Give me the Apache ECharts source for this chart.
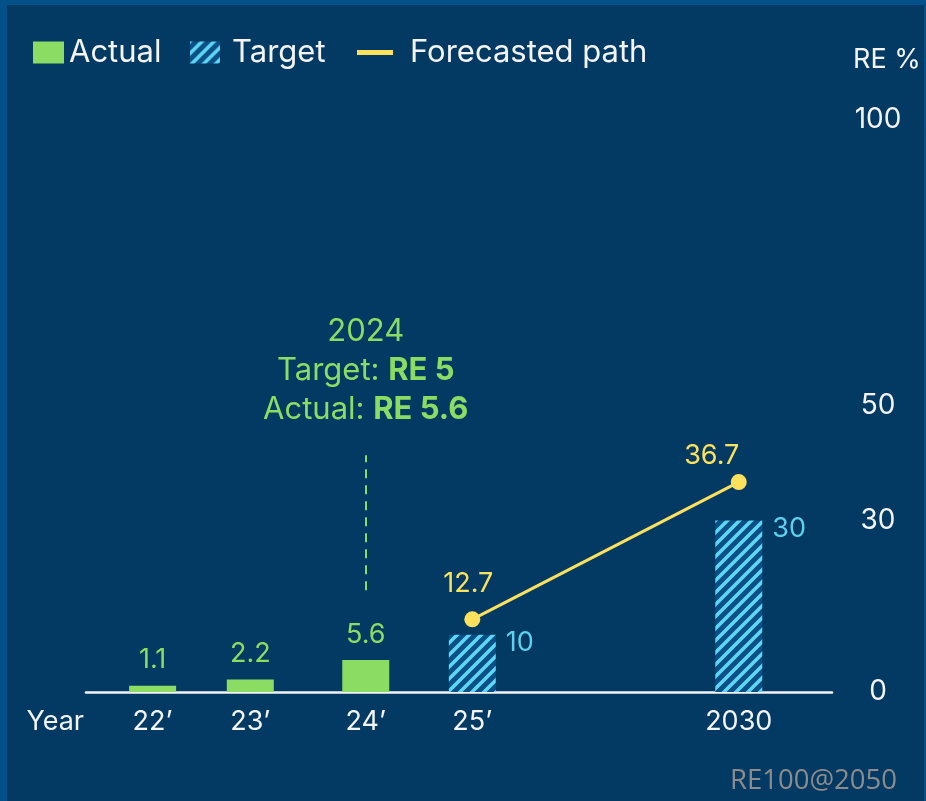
<!DOCTYPE html>
<html>
<head>
<meta charset="utf-8">
<script src="https://cdn.jsdelivr.net/npm/echarts@6/dist/echarts.min.js"></script>
<style>
  html, body { margin: 0; padding: 0; background: #023a64; }
  #chart {
    width: 926px; height: 801px;
    background: #023a64;
    box-shadow: inset 7px 5px 0 0 #045189, inset -2px 0 0 0 #045189;
  }
</style>
</head>
<body>
<div id="chart"></div>
<script>
// ---- data ----
const categories = ['22’', '23’', '24’', '25’', '2030'];
const actualValues = [1.1, 2.2, 5.6, null, null];
const targetValues = [null, null, null, 10, 30];
const forecastValues = [null, null, null, 12.7, 36.7];
const yTickValues = [0, 30, 50, 100];
const noteYear = '2024';
const noteTarget = 5;
const noteActual = 5.6;
const noteCategory = '24’';
const noteRange = [17.8, 41.4];
const watermark = 'RE100@2050';

// ---- layout (axis slots so the uneven year spacing is kept) ----
const SLOT_COUNT = 84;
const slotOf = [7, 18, 31, 43, 73];
const axisCats = new Array(SLOT_COUNT).fill('');
categories.forEach((c, i) => { axisCats[slotOf[i]] = c; });
function toSlots(arr) {
  const out = new Array(SLOT_COUNT).fill(null);
  arr.forEach((v, i) => { out[slotOf[i]] = v; });
  return out;
}

// ---- colours ----
const GREEN = '#8add62';
const CYAN = '#5fd0ec';
const YELLOW = '#fde15c';
const WHITE = '#f4f4f4';
const FONT = 'Inter';

// hatch pattern
const tile = document.createElement('canvas');
tile.width = 12; tile.height = 12;
(function () {
  const c = tile.getContext('2d');
  c.fillStyle = '#0a4f86';
  c.fillRect(0, 0, 12, 12);
  c.strokeStyle = '#5fd6f2';
  c.lineWidth = 3.6;
  c.beginPath();
  c.moveTo(-6, 6); c.lineTo(6, -6);
  c.moveTo(0, 12); c.lineTo(12, 0);
  c.moveTo(6, 18); c.lineTo(18, 6);
  c.stroke();
})();
const hatch = { image: tile, repeat: 'repeat' };

const chart = echarts.init(document.getElementById('chart'), null, { renderer: 'canvas' });

const option = {
  backgroundColor: 'transparent',
  textStyle: { fontFamily: FONT },
  animation: false,
  legend: [
    {
      left: 28, top: 32, itemWidth: 31, itemHeight: 22, icon: 'rect',
      data: ['Actual'],
      textStyle: { color: WHITE, fontSize: 31, fontFamily: FONT, padding: [0, 0, 0, 0] }
    },
    {
      left: 185, top: 32, itemWidth: 30, itemHeight: 22, icon: 'rect',
      data: ['Target'],
      textStyle: { color: WHITE, fontSize: 31, fontFamily: FONT, padding: [0, 0, 0, 7] }
    },
    {
      left: 352, top: 32, itemWidth: 36, itemHeight: 5, icon: 'rect',
      data: ['Forecasted path'],
      textStyle: { color: WHITE, fontSize: 31, fontFamily: FONT, padding: [0, 0, 0, 12] }
    }
  ],
  grid: { left: 86, right: 94, top: 120, bottom: 109, outerBoundsMode: 'none', containLabel: false },
  xAxis: {
    type: 'category',
    data: axisCats,
    boundaryGap: true,
    axisLine: { lineStyle: { color: WHITE, width: 2.5 } },
    axisTick: { show: false },
    axisLabel: { color: WHITE, fontSize: 27, margin: 16, interval: 0, fontFamily: FONT },
    name: 'Year',
    nameLocation: 'start',
    nameGap: 2,
    nameTextStyle: { color: WHITE, fontSize: 27, fontFamily: FONT, verticalAlign: 'top', padding: [16, 0, 0, 0] }
  },
  yAxis: {
    type: 'value',
    position: 'right',
    min: 0, max: 100,
    splitLine: { show: false },
    axisLine: { show: false },
    axisTick: { show: false },
    axisLabel: {
      color: WHITE, fontSize: 28, fontFamily: FONT, align: 'center', margin: 46,
      customValues: yTickValues
    },
    name: 'RE %',
    nameLocation: 'end',
    nameGap: 47,
    nameTextStyle: { color: WHITE, fontSize: 27, fontFamily: FONT, align: 'left', padding: [0, 0, 0, 21] }
  },
  series: [
    {
      name: 'Actual',
      type: 'bar',
      data: toSlots(actualValues),
      barWidth: 47,
      barGap: '-100%',
      itemStyle: { color: GREEN },
      label: {
        show: true, position: 'top', distance: 12,
        color: GREEN, fontSize: 27, fontFamily: FONT
      },
      markLine: {
        symbol: 'none',
        silent: true,
        lineStyle: { color: GREEN, type: [9, 7], width: 2 },
        label: {
          show: true, position: 'end', distance: 26,
          formatter: '{n|' + noteYear + '}\n{n|Target: }{b|RE ' + noteTarget + '}\n{n|Actual: }{b|RE ' + noteActual + '}',
          rich: {
            n: { color: GREEN, fontSize: 31, fontFamily: FONT, lineHeight: 39 },
            b: { color: GREEN, fontSize: 31, fontFamily: FONT, fontWeight: 'bold', lineHeight: 39 }
          }
        },
        data: [[
          { coord: [noteCategory, noteRange[0]] },
          { coord: [noteCategory, noteRange[1]] }
        ]]
      }
    },
    {
      name: 'Target',
      type: 'bar',
      data: toSlots(targetValues),
      barWidth: 47,
      barGap: '-100%',
      itemStyle: { color: hatch },
      label: {
        show: true, position: ['100%', 0], offset: [10, 8],
        align: 'left', verticalAlign: 'middle',
        color: CYAN, fontSize: 27, fontFamily: FONT
      }
    },
    {
      name: 'Forecasted path',
      type: 'line',
      data: toSlots(forecastValues),
      connectNulls: true,
      symbol: 'circle',
      symbolSize: 16,
      z: 5,
      lineStyle: { color: YELLOW, width: 3 },
      itemStyle: { color: YELLOW },
      label: {
        show: true, position: 'top', distance: 12,
        formatter: function (p) {
          const k = slotOf.indexOf(p.dataIndex);
          return (k === categories.length - 1 ? '{end|' : '{mid|') + p.value + '}';
        },
        rich: {
          mid: { color: YELLOW, fontSize: 27, fontFamily: FONT, padding: [0, 8, 0, 0], lineHeight: 30 },
          end: { color: YELLOW, fontSize: 27, fontFamily: FONT, padding: [0, 54, 0, 0], lineHeight: 12 }
        }
      }
    }
  ],
  graphic: [
    {
      type: 'text', right: 29, bottom: 6,
      style: { text: watermark, fill: '#8c8c8c', fontSize: 27.5, fontFamily: 'Open Sans' }
    }
  ]
};

chart.setOption(option);
</script>
</body>
</html>
